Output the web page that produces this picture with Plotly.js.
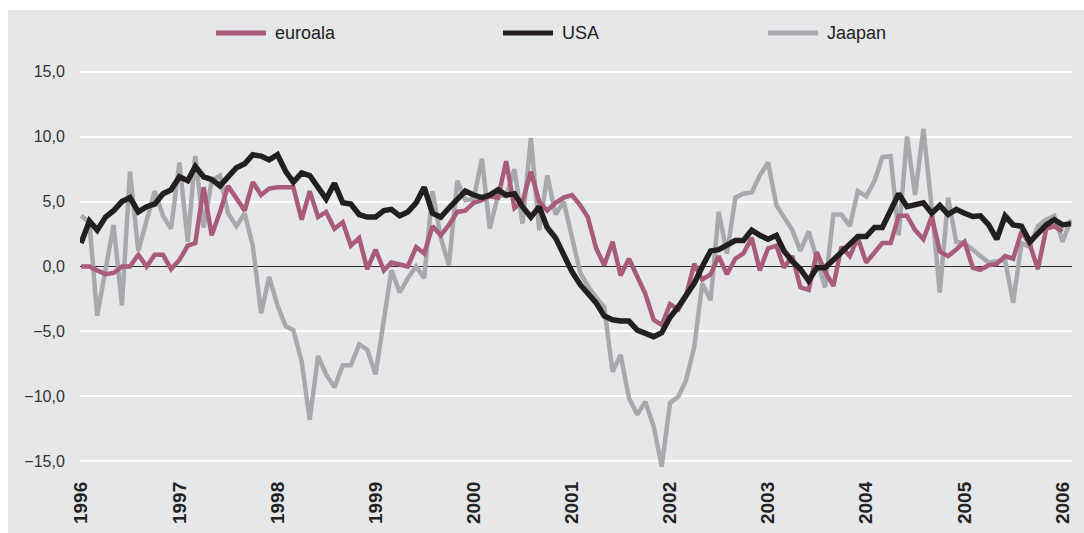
<!DOCTYPE html>
<html><head><meta charset="utf-8">
<script src="https://cdn.plot.ly/plotly-3.0.1.min.js"></script>
<style>html,body{margin:0;padding:0;background:#fff}#chart{width:1084px;height:533px}</style>
</head><body><div id="chart"></div>
<script>
// ---- data (monthly, Jan 1996 ... Feb 2006) ----
const startYear = 1996;
const seriesNames = ['euroala', 'USA', 'Jaapan'];
const euroala = [
  0.0, 0.0, -0.3, -0.6, -0.5, 0.0, 0.0, 0.9, 0.0, 0.9, 0.9, -0.2,
  0.5, 1.6, 1.8, 6.1, 2.4, 4.2, 6.2, 5.3, 4.3, 6.5, 5.5, 6.0,
  6.1, 6.1, 6.1, 3.6, 5.8, 3.8, 4.2, 2.9, 3.4, 1.6, 2.2, -0.2,
  1.3, -0.3, 0.3, 0.15, 0.0, 1.5, 1.0, 3.1, 2.4, 3.2, 4.2, 4.3,
  4.9, 5.1, 5.4, 5.3, 8.1, 4.5, 5.0, 7.3, 5.0, 4.3, 4.9, 5.3,
  5.5, 4.7, 3.8, 1.4, 0.1, 1.9, -0.7, 0.6, -0.8, -2.1, -4.1, -4.5,
  -2.9, -3.3, -2.3, 0.2, -1.0, -0.6, 0.8, -0.6, 0.6, 1.0, 2.2, -0.3,
  1.4, 1.6, -0.1, 0.8, -1.6, -1.8, 1.1, -0.4, -1.5, 1.5, 0.8, 2.2,
  0.3, 1.1, 1.8, 1.8, 3.9, 3.9, 2.8, 2.1, 3.85, 1.15, 0.8, 1.3,
  1.9, -0.1, -0.25, 0.1, 0.2, 0.8, 0.6, 2.7, 1.7, -0.2, 2.9, 3.1,
  2.7, null
];
const usa = [
  1.8, 3.5, 2.8, 3.8, 4.3, 5.0, 5.3, 4.2, 4.6, 4.8, 5.6, 5.9,
  6.9, 6.6, 7.7, 6.9, 6.7, 6.2, 6.9, 7.6, 7.9, 8.6, 8.5, 8.2,
  8.6, 7.3, 6.5, 7.2, 7.0, 6.0, 5.2, 6.4, 4.9, 4.8, 4.0, 3.8,
  3.8, 4.3, 4.4, 3.9, 4.2, 4.9, 6.1, 4.1, 3.8, 4.5, 5.2, 5.8,
  5.5, 5.3, 5.5, 5.9, 5.5, 5.6, 4.6, 3.8, 4.6, 3.0, 2.2, 0.9,
  -0.4, -1.4, -2.0, -2.8, -3.8, -4.1, -4.2, -4.2, -4.9, -5.1, -5.4, -5.1,
  -3.9, -3.1, -2.2, -1.3, 0.0, 1.2, 1.3, 1.6, 2.0, 2.0, 2.8, 2.4,
  2.1, 2.4, 1.2, 0.4, -0.2, -1.1, -0.1, -0.1, 0.5, 1.1, 1.6, 2.3,
  2.3, 3.0, 3.0, 4.3, 5.6, 4.6, 4.7, 4.9, 4.1, 4.7, 4.0, 4.4,
  4.1, 3.85, 3.9, 3.2, 2.1, 3.9, 3.2, 3.1, 1.9, 2.6, 3.2, 3.6,
  3.2, 3.3
];
const jaapan = [
  3.9, 3.4, -3.8, -0.3, 3.2, -3.0, 7.3, 1.2, 3.6, 5.8, 3.9, 2.9,
  8.0, 1.9, 8.5, 3.0, 6.6, 7.0, 4.1, 3.1, 4.1, 1.6, -3.6, -0.8,
  -3.0, -4.6, -4.9, -7.3, -11.8, -6.9, -8.3, -9.3, -7.6, -7.6, -6.0, -6.4,
  -8.3, -4.2, -0.3, -2.0, -0.9, 0.0, -0.9, 5.8, 2.2, 0.1, 6.6, 5.1,
  5.2, 8.3, 2.9, 5.5, 5.4, 7.5, 3.3, 9.9, 2.8, 7.0, 4.0, 5.0,
  2.3, -0.5, -1.5, -2.4, -3.1, -8.1, -6.8, -10.1, -11.4, -10.4, -12.3, -15.4,
  -10.5, -10.0, -8.8, -6.2, -1.3, -2.6, 4.2, 1.0, 5.3, 5.6, 5.7, 7.0,
  8.0, 4.7, 3.8, 2.8, 1.2, 2.7, 0.6, -1.6, 4.0, 4.0, 3.1, 5.8,
  5.4, 6.6, 8.4, 8.5, 2.4, 10.0, 5.5, 10.6, 4.5, -2.0, 5.3, 1.9,
  1.8, 1.3, 0.9, 0.3, 0.4, 0.5, -2.8, 1.8, 1.5, 3.1, 3.6, 3.9,
  1.9, 3.6
];
const yearLabels = ['1996','1997','1998','1999','2000','2001','2002','2003','2004','2005','2006'];
const yTickVals = [-15, -10, -5, 0, 5, 10, 15];

// ---- styling ----
const colors = {euroala: '#a95b7b', USA: '#231f20', Jaapan: '#a7a9ac'};
const widths = {euroala: 4.5, USA: 5.5, Jaapan: 4.5};
const W = 1084, H = 533;
const M = {l: 80, r: 12, t: 43, b: 56};
const pw = W - M.l - M.r, ph = H - M.t - M.b;
const fx = p => (p - M.l) / pw;
const fy = p => 1 - (p - M.t) / ph;
const FONT = 'Liberation Sans, Arial, sans-serif';

const dates = usa.map((_, i) => {
  const y = startYear + Math.floor(i / 12);
  const m = (i % 12) + 1;
  return y + '-' + String(m).padStart(2, '0') + '-01';
});
const valuesByName = {euroala: euroala, USA: usa, Jaapan: jaapan};

// draw order: Jaapan underneath, USA on top
const drawOrder = ['Jaapan', 'euroala', 'USA'];
const traces = drawOrder.map(n => ({
  type: 'scatter', mode: 'lines', name: n,
  x: dates, y: valuesByName[n],
  line: {color: colors[n], width: widths[n]},
  connectgaps: false, showlegend: false, hoverinfo: 'skip'
}));

// custom legend (swatch 50px long, as in the reference)
const legendPos = {euroala: 216, USA: 503, Jaapan: 768};
const legendY = 33;
const shapes = [
  {type: 'rect', xref: 'paper', yref: 'paper', layer: 'below',
   x0: fx(8), x1: fx(W + 2), y0: fy(H + 2), y1: fy(10),
   fillcolor: '#e6e7e8', line: {width: 0}}
];
const annotations = [];
seriesNames.forEach(n => {
  const x0 = legendPos[n];
  shapes.push({type: 'line', xref: 'paper', yref: 'paper',
    x0: fx(x0), x1: fx(x0 + 50), y0: fy(legendY), y1: fy(legendY),
    line: {color: colors[n], width: 5}});
  annotations.push({xref: 'paper', yref: 'paper', x: fx(x0 + 57), y: fy(legendY),
    xanchor: 'left', yanchor: 'middle', showarrow: false, text: n,
    font: {family: FONT, size: 18, color: '#222'}});
});

const layout = {
  width: W, height: H,
  margin: M,
  paper_bgcolor: '#ffffff',
  plot_bgcolor: '#e6e7e8',
  separators: ', ',
  showlegend: false,
  hovermode: false,
  font: {family: FONT, color: '#333'},
  xaxis: {
    type: 'date',
    range: ['1995-12-28', '2006-02-05'],
    tickmode: 'array',
    tickvals: yearLabels.map(y => y + '-01-01'),
    ticktext: yearLabels,
    tickangle: -90,
    tickfont: {family: FONT, size: 19, color: '#222', weight: 'bold'},
    showgrid: false, zeroline: false, showline: false, ticks: ''
  },
  yaxis: {
    range: [-16.2, 17.2],
    tickmode: 'array',
    tickvals: yTickVals,
    tickformat: '.1f',
    tickfont: {family: FONT, size: 16, color: '#333'},
    showgrid: true, gridcolor: '#ffffff', gridwidth: 2,
    zeroline: true, zerolinecolor: '#2b2b2b', zerolinewidth: 1.5,
    showline: false,
    ticks: 'outside', ticklen: 11, tickcolor: 'rgba(0,0,0,0)'
  },
  shapes: shapes,
  annotations: annotations
};

Plotly.newPlot('chart', traces, layout, {displayModeBar: false, staticPlot: true});
</script>
</body></html>
